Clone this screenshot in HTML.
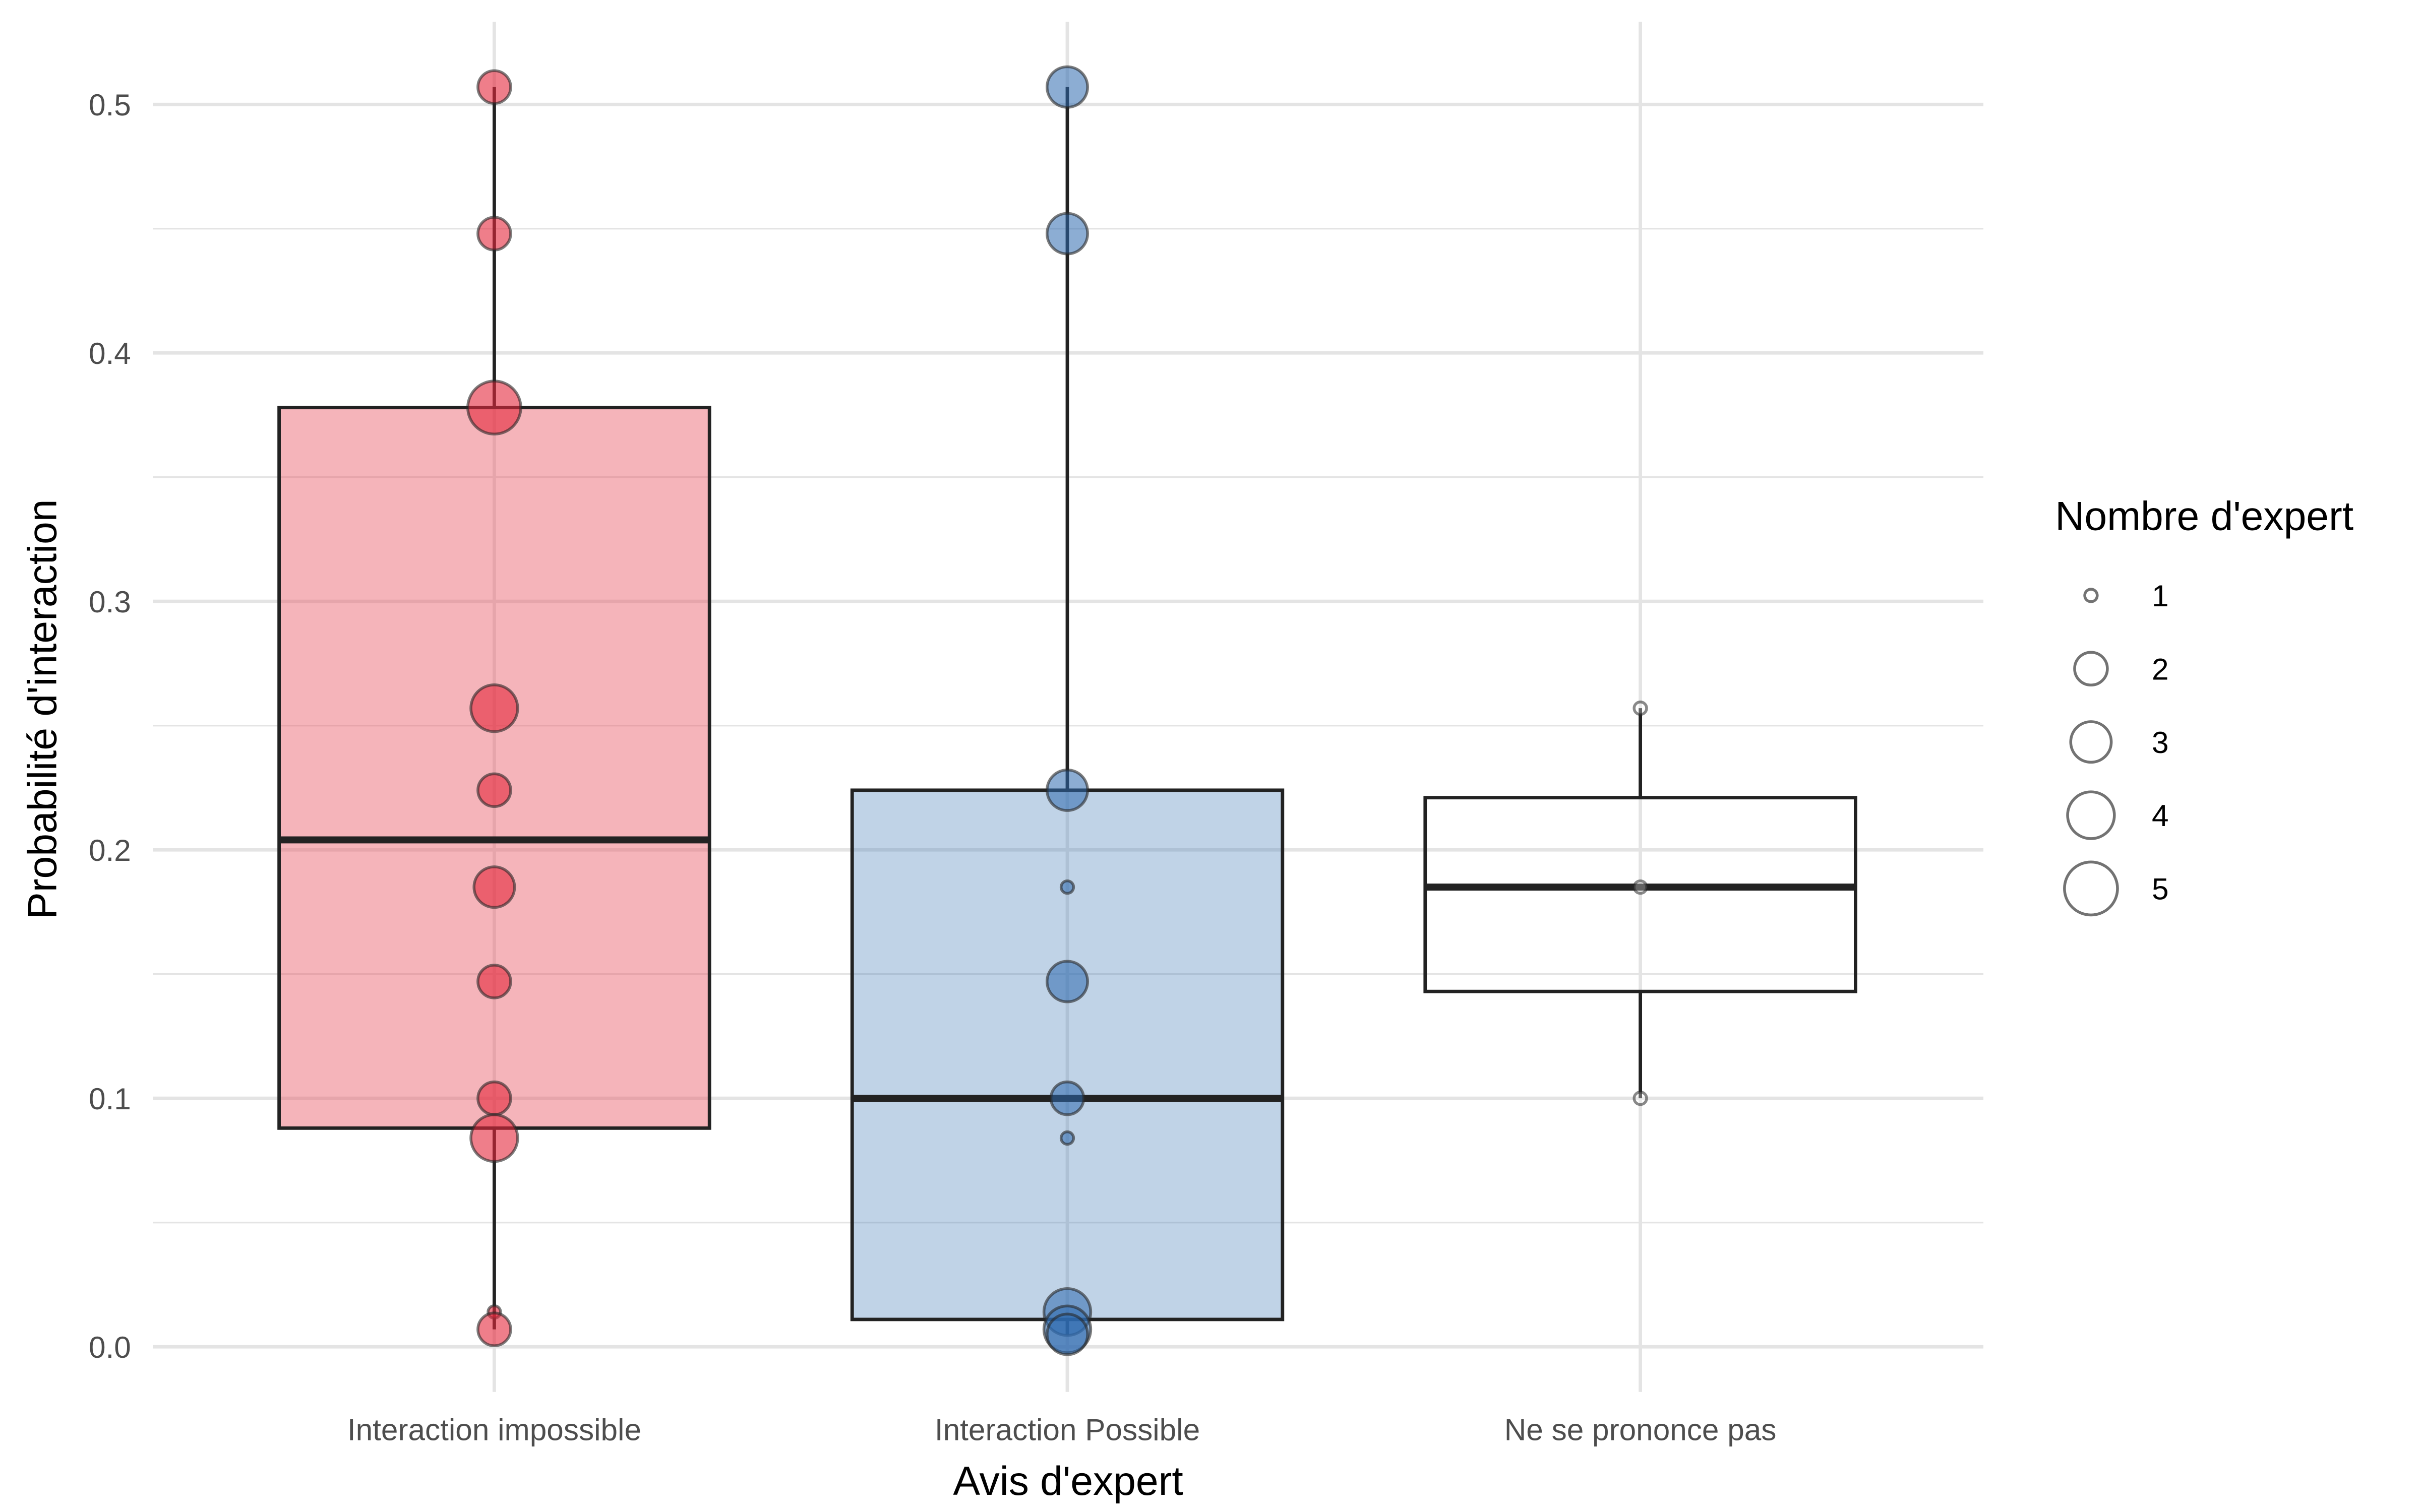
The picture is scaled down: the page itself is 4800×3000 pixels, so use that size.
<!DOCTYPE html>
<html><head><meta charset="utf-8"><style>html,body{margin:0;padding:0;background:#fff}svg{display:block}</style></head>
<body>
<svg id="chart" width="4800" height="3000" viewBox="0 0 1552 970" xmlns="http://www.w3.org/2000/svg" font-family="Liberation Sans, sans-serif">
<rect width="1552" height="970" fill="#fff"/>
<g id="grid"></g><g id="boxes"></g><g id="points"></g><g id="axes"></g><g id="legend"></g>
</svg>
<script>
const categories = ["Interaction impossible","Interaction Possible","Ne se prononce pas"];
const q1 = [0.088, 0.011, 0.143];
const medians = [0.204, 0.100, 0.185];
const q3 = [0.378, 0.224, 0.221];
const whiskerLow = [0.007, 0.005, 0.100];
const whiskerHigh = [0.507, 0.507, 0.257];
const yTicks = [0, 0.1, 0.2, 0.3, 0.4, 0.5];
const yTickLabels = ["0.0","0.1","0.2","0.3","0.4","0.5"];
const ptsImpossibleY = [0.507,0.448,0.378,0.257,0.224,0.185,0.147,0.100,0.084,0.014,0.007];
const ptsImpossibleN = [2,2,5,4,2,3,2,2,4,1,2];
const ptsPossibleY = [0.507,0.448,0.224,0.185,0.147,0.100,0.084,0.014,0.007,0.005];
const ptsPossibleN = [3,3,3,1,3,2,1,4,4,3];
const ptsNspY = [0.257,0.185,0.100];
const ptsNspN = [1,1,1];
const legendSizes = [1,2,3,4,5];

const NS="http://www.w3.org/2000/svg";
const yS = v => 864 - v*1594;
const xS = i => 317 + i*367.5;
const rS = n => [0,4,10.5,13,15,17][n];
function mk(tag, attrs, parent){const e=document.createElementNS(NS,tag);for(const k in attrs)e.setAttribute(k,attrs[k]);parent.appendChild(e);return e;}
const grid=document.getElementById('grid'),boxes=document.getElementById('boxes'),pts=document.getElementById('points'),axes=document.getElementById('axes'),leg=document.getElementById('legend');
for(let v=0; v<=0.5001; v+=0.05){
  const major = Math.abs(v*10-Math.round(v*10))<1e-6;
  const l=mk('line',{x1:98,x2:1272,y1:yS(v),y2:yS(v),stroke:'#e4e4e4','stroke-width':major?2.2:1.1},grid);
  
  
}
categories.forEach((c,i)=>{
  const l=mk('line',{x1:xS(i),x2:xS(i),y1:14,y2:893,stroke:'#e4e4e4','stroke-width':2.2},grid);
  
  
});
const fills=['rgba(232,80,95,0.43)','rgba(70,125,185,0.34)','rgba(255,255,255,0)'];
categories.forEach((c,i)=>{
  const g=mk('g',{},boxes);
  
  
  const x=xS(i);
  mk('line',{x1:x,x2:x,y1:yS(whiskerHigh[i]),y2:yS(q3[i]),stroke:'#222','stroke-width':2.2},g);
  mk('line',{x1:x,x2:x,y1:yS(q1[i]),y2:yS(whiskerLow[i]),stroke:'#222','stroke-width':2.2},g);
  mk('rect',{x:x-138,y:yS(q3[i]),width:276,height:yS(q1[i])-yS(q3[i]),fill:fills[i],stroke:'#222','stroke-width':2.2},g);
  mk('line',{x1:x-138,x2:x+138,y1:yS(medians[i]),y2:yS(medians[i]),stroke:'#222','stroke-width':4.5},g);
});
function drawPts(ys,ns,i,fill,stroke,name){
  ys.forEach((v,k)=>{
    const c=mk('circle',{cx:xS(i),cy:yS(v),r:rS(ns[k]),fill:fill,stroke:stroke,'stroke-width':1.8},pts);
    
    
  });
}
drawPts(ptsImpossibleY,ptsImpossibleN,0,'rgba(228,40,60,0.6)','rgba(40,40,40,0.6)','point-impossible');
drawPts(ptsPossibleY,ptsPossibleN,1,'rgba(45,105,175,0.55)','rgba(40,40,40,0.6)','point-possible');
drawPts(ptsNspY,ptsNspN,2,'rgba(255,255,255,0.3)','rgba(40,40,40,0.55)','point-nsp');
yTicks.forEach((v,k)=>{
  const t=mk('text',{x:84,y:yS(v)+7,'text-anchor':'end','font-size':19.5,fill:'#4d4d4d'},axes);
  t.textContent=yTickLabels[k];
  
  
});
categories.forEach((c,i)=>{
  const t=mk('text',{x:xS(i),y:924,'text-anchor':'middle','font-size':19.5,fill:'#4d4d4d'},axes);
  t.textContent=c;
  
  
});
let t=mk('text',{x:685,y:959,'text-anchor':'middle','font-size':26,fill:'#000'},axes);
t.textContent="Avis d'expert";


t=mk('text',{x:36,y:455,'text-anchor':'middle','font-size':26,fill:'#000',transform:'rotate(-90 36 455)'},axes);
t.textContent="Probabilité d'interaction";


t=mk('text',{x:1318,y:340,'font-size':26,fill:'#000'},leg);
t.textContent="Nombre d'expert";


legendSizes.forEach((n,k)=>{
  const y=382+k*47;
  const c=mk('circle',{cx:1341,cy:y,r:rS(n),fill:'none',stroke:'rgba(40,40,40,0.65)','stroke-width':1.8},leg);
  
  
  const tt=mk('text',{x:1380,y:y+7,'font-size':19.5,fill:'#000'},leg);
  tt.textContent=String(n);
  
  
});
</script>
</body></html>
